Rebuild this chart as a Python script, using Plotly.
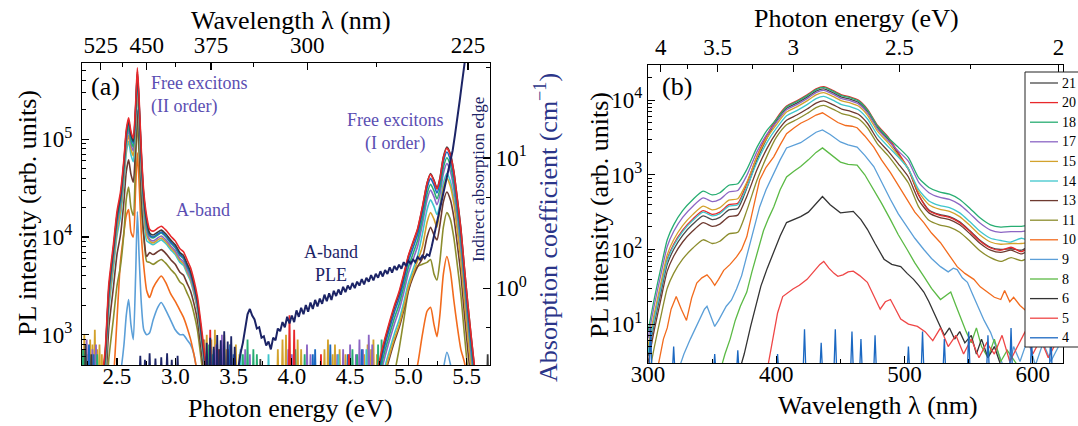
import plotly.graph_objects as go

W, H = 1078, 426
FONT = "Liberation Serif, Times New Roman, serif"
NAVY = "#1c2466"
LBL = "#5a4eb2"

# ---------------- Panel (a): PL spectra vs photon energy (log10 of intensity) ----------------
a_E_left = [2.36, 2.40, 2.43, 2.47, 2.50, 2.53, 2.56, 2.58, 2.60, 2.62, 2.64, 2.66, 2.675, 2.69, 2.71, 2.73,
            2.755, 2.78, 2.81, 2.85, 2.88, 2.92, 2.96, 3.00, 3.04, 3.07, 3.10, 3.13, 3.16, 3.19, 3.22, 3.25, 3.28]
a_E_right = [4.72, 4.76, 4.80, 4.84, 4.88, 4.92, 4.96, 5.00, 5.04, 5.08, 5.12, 5.16, 5.19, 5.22, 5.245, 5.27,
             5.30, 5.33, 5.36, 5.39, 5.42, 5.45, 5.48, 5.51, 5.54, 5.57, 5.60]

a_red_L = [2.42, 2.86, 3.52, 3.93, 4.26, 4.46, 4.80, 5.10, 5.22, 5.08, 5.01, 5.36, 5.73, 5.41, 4.86, 4.46, 4.21, 4.08, 4.06, 4.09, 4.11, 4.07, 4.01, 3.96, 3.88, 3.85, 3.77, 3.69, 3.56, 3.39, 3.12, 2.82, 2.52]
a_red_R = [2.52, 2.78, 2.97, 3.14, 3.30, 3.44, 3.62, 3.81, 3.95, 4.09, 4.31, 4.55, 4.64, 4.57, 4.49, 4.59, 4.81, 4.91, 4.84, 4.66, 4.38, 4.08, 3.69, 3.31, 2.97, 2.64, 2.32]
a_black_L = [2.37, 2.82, 3.47, 3.89, 4.22, 4.42, 4.77, 5.07, 5.19, 5.05, 4.98, 5.32, 5.69, 5.37, 4.82, 4.42, 4.17, 4.04, 4.02, 4.05, 4.07, 4.03, 3.97, 3.92, 3.84, 3.81, 3.73, 3.65, 3.52, 3.35, 3.07, 2.77, 2.47]
a_black_R = [2.50, 2.75, 2.95, 3.12, 3.28, 3.42, 3.60, 3.80, 3.94, 4.08, 4.30, 4.55, 4.65, 4.58, 4.50, 4.60, 4.82, 4.92, 4.85, 4.67, 4.39, 4.09, 3.69, 3.31, 2.96, 2.63, 2.31]
a_blue_L = [2.35, 2.80, 3.45, 3.87, 4.20, 4.40, 4.75, 5.05, 5.17, 5.03, 4.96, 5.30, 5.67, 5.35, 4.80, 4.40, 4.15, 4.02, 4.00, 4.03, 4.05, 4.01, 3.95, 3.90, 3.82, 3.79, 3.71, 3.63, 3.50, 3.33, 3.05, 2.75, 2.45]
a_blue_R = [2.45, 2.70, 2.90, 3.07, 3.23, 3.37, 3.55, 3.75, 3.89, 4.03, 4.25, 4.50, 4.60, 4.53, 4.45, 4.55, 4.77, 4.87, 4.79, 4.61, 4.33, 4.03, 3.63, 3.25, 2.90, 2.57, 2.25]
a_green_L = [2.31, 2.76, 3.41, 3.83, 4.16, 4.36, 4.71, 5.01, 5.13, 4.99, 4.92, 5.26, 5.63, 5.31, 4.76, 4.36, 4.11, 4.01, 3.99, 4.02, 4.04, 4.00, 3.94, 3.89, 3.81, 3.78, 3.70, 3.62, 3.49, 3.32, 3.04, 2.74, 2.44]
a_green_R = [2.39, 2.64, 2.84, 3.01, 3.17, 3.31, 3.49, 3.69, 3.83, 3.97, 4.19, 4.44, 4.54, 4.47, 4.39, 4.49, 4.71, 4.81, 4.73, 4.55, 4.27, 3.97, 3.57, 3.19, 2.84, 2.51, 2.19]
a_purple_L = [2.27, 2.72, 3.37, 3.79, 4.12, 4.32, 4.67, 4.97, 5.09, 4.95, 4.88, 5.22, 5.59, 5.27, 4.72, 4.32, 4.07, 3.98, 3.96, 3.99, 4.01, 3.97, 3.91, 3.86, 3.78, 3.75, 3.67, 3.59, 3.46, 3.29, 3.01, 2.71, 2.41]
a_purple_R = [2.33, 2.58, 2.78, 2.95, 3.11, 3.25, 3.43, 3.63, 3.77, 3.91, 4.13, 4.38, 4.48, 4.41, 4.33, 4.43, 4.65, 4.75, 4.67, 4.49, 4.21, 3.91, 3.51, 3.13, 2.78, 2.45, 2.13]
a_gold_L = [2.22, 2.67, 3.32, 3.74, 4.07, 4.27, 4.62, 4.92, 5.04, 4.90, 4.83, 5.17, 5.54, 5.22, 4.67, 4.27, 4.02, 3.96, 3.94, 3.97, 3.99, 3.95, 3.89, 3.84, 3.76, 3.73, 3.65, 3.57, 3.44, 3.27, 2.99, 2.69, 2.39]
a_gold_R = [2.18, 2.43, 2.63, 2.80, 2.96, 3.10, 3.28, 3.48, 3.62, 3.76, 3.90, 4.15, 4.25, 4.18, 4.10, 4.28, 4.50, 4.60, 4.52, 4.34, 4.06, 3.76, 3.36, 2.98, 2.63, 2.30, 1.98]
a_cyan_L = [2.16, 2.61, 3.26, 3.68, 4.01, 4.21, 4.56, 4.86, 4.98, 4.84, 4.77, 5.11, 5.48, 5.16, 4.61, 4.21, 3.96, 3.94, 3.92, 3.95, 3.97, 3.93, 3.87, 3.82, 3.74, 3.71, 3.63, 3.55, 3.42, 3.25, 2.97, 2.67, 2.37]
a_cyan_R = [2.23, 2.48, 2.68, 2.85, 3.01, 3.15, 3.33, 3.53, 3.67, 3.81, 4.03, 4.28, 4.38, 4.31, 4.23, 4.33, 4.55, 4.65, 4.57, 4.39, 4.11, 3.81, 3.41, 3.03, 2.68, 2.35, 2.03]
a_brown_L = [1.97, 2.42, 3.07, 3.49, 3.82, 4.02, 4.37, 4.67, 4.79, 4.64, 4.56, 4.92, 5.30, 4.98, 4.42, 4.02, 3.80, 3.84, 3.82, 3.85, 3.87, 3.83, 3.77, 3.72, 3.64, 3.61, 3.53, 3.45, 3.32, 3.15, 2.87, 2.57, 2.27]
a_brown_R = [2.15, 2.40, 2.60, 2.77, 2.93, 3.07, 3.25, 3.45, 3.59, 3.70, 3.78, 4.00, 4.10, 4.02, 3.97, 4.12, 4.36, 4.46, 4.38, 4.20, 3.92, 3.62, 3.22, 2.84, 2.49, 2.16, 1.84]
a_olive_L = [1.65, 2.10, 2.75, 3.17, 3.50, 3.70, 4.05, 4.39, 4.51, 4.30, 4.22, 4.79, 5.16, 4.84, 4.29, 4.00, 3.75, 3.74, 3.72, 3.75, 3.77, 3.73, 3.67, 3.62, 3.54, 3.51, 3.43, 3.35, 3.22, 3.05, 2.77, 2.47, 2.17]
a_olive_R = [1.50, 1.80, 2.10, 2.35, 2.60, 2.85, 3.15, 3.45, 3.62, 3.70, 3.72, 3.74, 3.77, 3.62, 3.56, 3.75, 4.10, 4.25, 4.18, 3.99, 3.71, 3.41, 3.01, 2.63, 2.28, 1.95, 1.63]
a_orange_L = [1.20, 1.60, 2.10, 2.55, 3.15, 3.75, 4.05, 4.22, 4.28, 4.05, 4.00, 4.50, 4.86, 4.55, 4.00, 3.70, 3.45, 3.38, 3.48, 3.56, 3.60, 3.53, 3.42, 3.34, 3.25, 3.18, 3.08, 2.96, 2.80, 2.60, 2.35, 2.10, 1.80]
a_orange_R = [1.00, 1.00, 1.10, 1.20, 1.40, 1.60, 1.90, 2.20, 2.50, 2.70, 3.00, 3.24, 3.28, 3.10, 2.98, 3.20, 3.62, 3.80, 3.65, 3.35, 3.08, 2.85, 2.72, 2.50, 2.20, 1.90, 1.60]
a_lblue_L = [1.50, 1.80, 2.00, 2.20, 2.40, 2.60, 2.90, 3.20, 3.36, 3.10, 2.95, 3.60, 4.26, 3.80, 3.30, 3.05, 3.00, 3.02, 3.15, 3.28, 3.33, 3.25, 3.15, 3.05, 3.00, 3.00, 2.95, 2.90, 2.80, 2.60, 2.40, 2.20, 2.00]
a_lblue_R = [2.30, 2.30, 2.30, 2.30, 2.30, 2.30, 2.30, 2.30, 2.30, 2.30, 2.30, 2.30, 2.30, 2.30, 2.30, 2.40, 2.65, 2.82, 2.70, 2.45, 2.30, 2.30, 2.30, 2.30, 2.30, 2.30, 2.30]

# noise spikes near the baseline of panel (a): centres (eV) and log10 heights
a_noise_gold_E = [2.20, 2.22, 2.25, 2.27, 2.29, 2.31, 2.33, 2.35, 2.37, 3.25, 3.27, 3.29, 3.31, 3.34, 3.36, 3.39, 3.42, 3.44,
                  3.47, 3.52, 3.55, 3.88, 3.92, 3.95, 3.99, 4.05, 4.08, 4.28, 4.31, 4.35, 4.37, 4.41, 4.46, 4.62, 4.65,
                  4.68, 4.70, 4.73]
a_noise_gold_h = [2.85, 3.00, 2.80, 2.95, 2.90, 3.05, 2.85, 2.90, 2.80, 2.95, 3.00, 2.85, 2.95, 3.05, 2.90, 2.85, 3.00, 2.85,
                  2.90, 2.90, 2.80, 2.85, 2.95, 3.00, 2.80, 2.95, 2.85, 2.85, 2.95, 2.80, 2.90, 2.85, 2.80, 2.80, 2.90,
                  2.85, 2.95, 2.80]
a_noise_purple_E = [2.21, 2.24, 2.26, 2.29, 2.32, 3.28, 3.35, 3.40, 3.46, 3.60, 3.64, 3.97, 4.00, 4.13, 4.16, 4.39, 4.44,
                    4.50, 4.55, 4.58, 4.61, 4.66, 4.69]
a_noise_purple_h = [2.80, 2.95, 2.85, 2.85, 2.90, 2.80, 2.90, 3.00, 2.85, 2.85, 2.80, 2.85, 2.80, 2.90, 2.80, 2.80, 2.85,
                    2.90, 2.80, 2.95, 2.85, 3.00, 2.90]
a_noise_green_E = [2.21, 2.23, 2.33, 3.29, 3.32, 3.58, 3.62, 3.67, 3.70, 4.03, 4.11, 4.52, 4.56, 4.74, 4.77]
a_noise_green_h = [2.85, 2.80, 2.80, 2.90, 2.80, 2.80, 2.95, 2.85, 2.80, 2.85, 2.80, 2.85, 2.80, 2.90, 2.95]
a_noise_blue_E = [2.26, 2.30, 3.24, 3.30, 3.33, 3.47, 3.50, 4.18, 4.20, 4.33, 4.48, 4.60]
a_noise_blue_h = [2.90, 2.80, 2.95, 2.80, 2.85, 2.90, 2.80, 2.80, 2.85, 2.90, 2.80, 2.85]
a_noise_red_E = [3.30, 3.37, 3.98, 4.02, 4.25, 4.49]
a_noise_red_h = [3.05, 2.85, 3.20, 3.05, 2.80, 2.80]
a_noise_black_E = [2.23, 2.28, 3.38, 3.73, 5.68]
a_noise_black_h = [2.90, 2.80, 2.85, 2.75, 2.80]
a_noise_cyan_E = [3.56, 3.80, 4.40, 4.64]
a_noise_cyan_h = [2.85, 2.80, 2.80, 2.85]

# A-band PLE / absorption (right axis, log10 of absorption coefficient)
ple_E = [3.54, 3.56, 3.58, 3.60, 3.62, 3.64, 3.66, 3.68, 3.70, 3.72, 3.74, 3.76, 3.78, 3.80, 3.82, 3.84, 3.86, 3.88,
         3.90, 3.92, 3.94, 3.96, 3.98, 4.00, 4.02, 4.04, 4.06, 4.08, 4.10, 4.12, 4.14, 4.16, 4.18, 4.20, 4.22, 4.24,
         4.26, 4.28, 4.30, 4.32, 4.34, 4.36, 4.38, 4.40, 4.42, 4.44, 4.46, 4.48, 4.50, 4.52, 4.54, 4.56, 4.58, 4.60,
         4.62, 4.64, 4.66, 4.68, 4.70, 4.72, 4.74, 4.76, 4.78, 4.80, 4.82, 4.84, 4.86, 4.88, 4.90, 4.92, 4.94, 4.96,
         4.98, 5.00, 5.02, 5.04, 5.06, 5.08, 5.10, 5.12, 5.14, 5.16, 5.18, 5.20, 5.22, 5.24, 5.26, 5.28, 5.30, 5.32,
         5.34, 5.36, 5.38, 5.40, 5.42, 5.44, 5.46, 5.48, 5.50]
ple_log = [-0.62, -0.50, -0.42, -0.30, -0.20, -0.16, -0.21, -0.24, -0.31, -0.30, -0.38, -0.37, -0.44, -0.41, -0.47, -0.38, -0.40, -0.31,
           -0.33, -0.26, -0.30, -0.22, -0.27, -0.21, -0.26, -0.17, -0.22, -0.15, -0.20, -0.13, -0.18, -0.11, -0.16, -0.09, -0.14, -0.08,
           -0.12, -0.05, -0.10, -0.04, -0.09, -0.02, -0.06, -0.01, -0.05, 0.01, -0.03, 0.02, -0.01, 0.04, 0.00, 0.05, 0.02, 0.07,
           0.03, 0.08, 0.05, 0.10, 0.06, 0.11, 0.08, 0.13, 0.09, 0.14, 0.11, 0.16, 0.12, 0.17, 0.14, 0.18, 0.15, 0.20,
           0.17, 0.21, 0.19, 0.22, 0.20, 0.24, 0.22, 0.25, 0.23, 0.26, 0.25, 0.32, 0.40, 0.48, 0.56, 0.64, 0.72, 0.80,
           0.88, 0.96, 1.06, 1.18, 1.30, 1.44, 1.58, 1.72, 1.85]
# PLE noise near its baseline (right axis log10)
ple_noise_E = [2.70, 2.74, 2.78, 2.83, 2.88, 2.93, 2.97, 3.02, 3.27, 3.30, 3.33, 3.36, 3.39, 3.42, 3.45, 3.48, 3.51]
ple_noise_h = [-0.52, -0.55, -0.50, -0.54, -0.53, -0.50, -0.55, -0.52, -0.42, -0.38, -0.45, -0.36, -0.40, -0.33, -0.41,
               -0.37, -0.45]

a_bottom_ticks = [2.5, 3.0, 3.5, 4.0, 4.5, 5.0, 5.5]
a_top_wavelengths = [525, 450, 375, 300, 225]
a_top_minor_wavelengths = [487.5, 412.5, 337.5, 262.5]

# ---------------- Panel (b): PL spectra vs wavelength (log10 of intensity) ----------------
series_labels = ["21", "20", "18", "17", "15", "14", "13", "11", "10", "9", "8", "6", "5", "4"]
series_colors = ["#4a4a4a", "#e8282b", "#27ad72", "#8c66c4", "#d3a22c", "#3fc6cd", "#6e3a30", "#8c8d2d",
                 "#f26b1d", "#5b9fd8", "#5bba45", "#333333", "#ef4646", "#1b68c2"]

lam_b = [300, 305, 310, 315, 320, 327, 335, 343, 350, 356, 363, 370, 377, 385, 393, 400, 408, 416, 424, 431, 437,
         444, 451, 458, 464, 471, 479, 487, 495, 503, 511, 519, 527, 535, 543, 551, 559, 567, 575, 583, 591, 599,
         607, 615, 622]
b_log_21 = [0.57, 1.02, 1.42, 1.80, 2.00, 2.19, 2.34, 2.45, 2.40, 2.43, 2.53, 2.55, 2.82, 3.20, 3.50, 3.72, 3.89, 3.96, 4.04, 4.12, 4.15, 4.10, 4.04, 4.01, 3.97, 3.85, 3.63, 3.48, 3.28, 3.07, 2.73, 2.53, 2.47, 2.44, 2.37, 2.25, 2.12, 2.03, 2.00, 2.01, 1.99, 2.05, 2.00, 1.98, 2.02]
b_log_20 = [0.64, 1.09, 1.49, 1.87, 2.07, 2.26, 2.41, 2.52, 2.47, 2.50, 2.60, 2.62, 2.88, 3.25, 3.54, 3.75, 3.92, 3.99, 4.07, 4.15, 4.18, 4.13, 4.07, 4.04, 4.00, 3.88, 3.66, 3.51, 3.30, 3.08, 2.73, 2.52, 2.46, 2.43, 2.36, 2.24, 2.11, 2.02, 1.99, 2.03, 1.97, 2.04, 1.98, 2.02, 1.96]
b_log_18 = [0.90, 1.35, 1.75, 2.13, 2.33, 2.52, 2.67, 2.78, 2.73, 2.76, 2.86, 2.88, 3.07, 3.37, 3.60, 3.74, 3.91, 3.98, 4.06, 4.14, 4.17, 4.12, 4.06, 4.03, 3.99, 3.87, 3.65, 3.50, 3.37, 3.23, 2.96, 2.83, 2.77, 2.74, 2.67, 2.55, 2.42, 2.33, 2.30, 2.31, 2.31, 2.33, 2.32, 2.30, 2.31]
b_log_17 = [0.81, 1.26, 1.66, 2.04, 2.24, 2.43, 2.58, 2.69, 2.64, 2.67, 2.77, 2.79, 2.99, 3.31, 3.55, 3.70, 3.87, 3.94, 4.02, 4.10, 4.13, 4.08, 4.02, 3.99, 3.95, 3.83, 3.61, 3.46, 3.32, 3.18, 2.90, 2.76, 2.70, 2.67, 2.60, 2.48, 2.35, 2.26, 2.23, 2.24, 2.24, 2.26, 2.25, 2.23, 2.24]
b_log_15 = [0.70, 1.15, 1.55, 1.93, 2.13, 2.32, 2.47, 2.58, 2.53, 2.56, 2.66, 2.68, 2.90, 3.24, 3.50, 3.67, 3.84, 3.91, 3.99, 4.07, 4.10, 4.05, 3.99, 3.96, 3.92, 3.80, 3.58, 3.43, 3.26, 3.08, 2.77, 2.60, 2.54, 2.51, 2.44, 2.32, 2.19, 2.10, 2.07, 2.08, 2.08, 2.10, 2.09, 2.07, 2.08]
b_log_14 = [0.62, 1.07, 1.47, 1.85, 2.05, 2.24, 2.39, 2.50, 2.45, 2.48, 2.58, 2.60, 2.83, 3.17, 3.44, 3.62, 3.79, 3.86, 3.94, 4.02, 4.05, 4.00, 3.94, 3.91, 3.87, 3.75, 3.53, 3.38, 3.24, 3.08, 2.80, 2.65, 2.59, 2.56, 2.49, 2.37, 2.24, 2.15, 2.12, 2.10, 2.15, 2.11, 2.16, 2.12, 2.14]
b_log_13 = [0.48, 0.93, 1.33, 1.71, 1.91, 2.10, 2.25, 2.36, 2.31, 2.34, 2.44, 2.46, 2.71, 3.07, 3.36, 3.56, 3.73, 3.80, 3.88, 3.96, 3.99, 3.94, 3.88, 3.85, 3.81, 3.69, 3.47, 3.32, 3.15, 2.97, 2.66, 2.49, 2.43, 2.40, 2.33, 2.21, 2.08, 1.99, 1.96, 1.99, 1.94, 2.00, 1.95, 1.98, 1.94]
b_log_11 = [0.25, 0.70, 1.10, 1.48, 1.68, 1.87, 2.02, 2.13, 2.08, 2.11, 2.21, 2.23, 2.52, 2.93, 3.26, 3.50, 3.67, 3.74, 3.82, 3.90, 3.93, 3.88, 3.82, 3.79, 3.75, 3.63, 3.41, 3.26, 3.08, 2.89, 2.57, 2.39, 2.33, 2.30, 2.23, 2.11, 1.98, 1.89, 1.84, 1.89, 1.85, 1.90, 1.86, 1.88, 1.85]

lam_10 = [300, 308, 312, 315, 318, 322, 326, 330, 334, 338, 342, 346, 349, 352, 355, 359, 364, 369, 373, 377, 382, 387,
          392, 398, 403, 408, 414, 419, 425, 431, 436, 442, 448, 454, 459, 463, 469, 476, 482, 489, 495, 502, 508, 515,
          521, 528, 534, 541, 547, 554, 559, 565, 570, 575, 578, 582, 585, 590, 596, 602, 608, 614, 620]
b_log_10 = [0.2, 0.45, 0.8, 0.95, 1.2, 1.37, 1.2, 1.05, 1.35, 1.55, 1.62, 1.66, 1.6, 1.52, 1.6, 1.72, 1.8, 1.9, 2.0, 2.17,
            2.55, 2.93, 3.1, 3.24, 3.4, 3.55, 3.63, 3.69, 3.74, 3.8, 3.83, 3.77, 3.7, 3.66, 3.65, 3.63, 3.52, 3.37, 3.2,
            3.03, 2.86, 2.67, 2.5, 2.36, 2.22, 2.09, 1.95, 1.77, 1.68, 1.6, 1.5, 1.43, 1.36, 1.33, 1.45, 1.3, 1.36, 1.25,
            1.16, 1.2, 1.1, 1.15, 1.05]
lam_9 = [322, 328, 333, 337, 341, 344, 346, 349, 352, 355, 358, 361, 365, 369, 373, 377, 382, 387, 392, 398, 403, 408,
         414, 419, 425, 431, 436, 442, 450, 456, 463, 469, 476, 482, 489, 495, 502, 508, 515, 521, 528, 534, 538, 541,
         545, 549, 553, 557, 562, 567, 571, 575, 580, 585, 590, 596, 602, 608, 614, 620]
b_log_9 = [0.3, 0.6, 0.8, 0.95, 1.1, 1.2, 1.24, 1.1, 0.97, 1.05, 1.15, 1.24, 1.32, 1.47, 1.65, 1.91, 2.25, 2.57, 2.8,
           3.03, 3.2, 3.36, 3.4, 3.43, 3.5, 3.57, 3.6, 3.54, 3.44, 3.4, 3.37, 3.26, 3.11, 2.9, 2.67, 2.48, 2.31, 2.15,
           2.0, 1.88, 1.77, 1.7, 1.75, 1.73, 1.62, 1.56, 1.4, 1.24, 1.05, 0.89, 0.7, 0.5, 0.3, 0.7, 0.5, 0.8, 0.45,
           0.75, 0.5, 0.7]
lam_8 = [355, 360, 364, 368, 372, 375, 377, 381, 385, 390, 394, 398, 403, 408, 414, 419, 425, 431, 436, 442, 450, 456,
         463, 469, 476, 482, 489, 495, 502, 508, 515, 521, 528, 532, 536, 540, 544, 548, 552, 556, 560, 565, 570, 575,
         580, 590]
b_log_8 = [0.3, 0.6, 0.8, 1.05, 1.24, 1.35, 1.43, 1.7, 1.96, 2.25, 2.42, 2.57, 2.8, 2.97, 3.05, 3.11, 3.2, 3.3, 3.36,
           3.28, 3.17, 3.14, 3.13, 3.0, 2.8, 2.62, 2.4, 2.2, 2.0, 1.82, 1.64, 1.48, 1.33, 1.38, 1.43, 1.25, 1.07, 0.9,
           0.75, 0.95, 0.7, 0.55, 0.8, 0.5, 0.65, 0.4]
lam_6 = [370, 375, 380, 384, 388, 393, 398, 403, 408, 414, 419, 425, 431, 436, 442, 450, 455, 460, 466, 471, 477, 484,
         490, 497, 502, 507, 511, 515, 519, 523, 527, 531, 535, 539, 543, 547, 552, 556, 560, 565, 570, 575]
b_log_6 = [0.3, 0.6, 0.97, 1.25, 1.51, 1.75, 1.96, 2.18, 2.36, 2.4, 2.44, 2.5, 2.62, 2.71, 2.6, 2.49, 2.5, 2.51, 2.4,
           2.27, 2.08, 1.87, 1.8, 1.77, 1.68, 1.6, 1.52, 1.43, 1.3, 1.16, 1.0, 0.85, 0.95, 0.8, 0.9, 0.75, 0.85, 0.6,
           0.8, 0.55, 0.7, 0.45]
lam_5 = [392, 396, 398, 401, 405, 409, 413, 418, 424, 430, 434, 437, 441, 445, 448, 452, 456, 460, 465, 471, 476, 481,
         485, 489, 493, 497, 503, 510, 516, 522, 528, 534, 540, 546, 552, 558, 564, 570, 576, 582, 588, 594, 600, 606,
         612, 618]
b_log_5 = [0.3, 0.7, 0.89, 1.15, 1.37, 1.42, 1.47, 1.52, 1.6, 1.72, 1.8, 1.84, 1.75, 1.68, 1.64, 1.66, 1.7, 1.71, 1.65,
           1.56, 1.38, 1.2, 1.3, 1.33, 1.2, 1.07, 1.0, 0.97, 0.9, 0.78, 0.95, 0.7, 0.85, 0.6, 0.8, 0.55, 0.75, 0.6,
           0.85, 0.5, 0.7, 0.9, 0.6, 0.8, 0.55, 0.75]
spk4_lam = [302, 320, 352, 370, 401, 422, 435, 446, 459, 466, 477, 503, 514, 531, 550, 565, 583, 599, 614]
spk4_log = [0.95, 0.7, 0.6, 0.65, 0.6, 0.93, 0.75, 0.93, 0.9, 0.8, 0.85, 0.7, 0.9, 0.8, 0.9, 0.85, 0.95, 0.8, 0.9]

b_bottom_ticks = [300, 400, 500, 600]
b_bottom_minor = [350, 450, 550]
b_top_energies = [4, 3.5, 3, 2.5, 2]
b_top_energy_labels = ["4", "3.5", "3", "2.5", "2"]
b_top_minor_energies = [3.75, 3.25, 2.75, 2.25]

HC = 1239.84  # eV*nm


def lin(v):
    return [10 ** t for t in v]


def spikes(centres, heights, half, base):
    xs, ys = [], []
    for c, h in zip(centres, heights):
        xs += [c - half, c, c + half, None]
        ys += [10 ** base, 10 ** h, 10 ** base, None]
    return xs, ys


fig = go.Figure()

# ---- panel (a) traces ----
a_noise = [
    ("#d3a22c", a_noise_gold_E, a_noise_gold_h),
    ("#8c66c4", a_noise_purple_E, a_noise_purple_h),
    ("#27ad72", a_noise_green_E, a_noise_green_h),
    ("#1b68c2", a_noise_blue_E, a_noise_blue_h),
    ("#e8282b", a_noise_red_E, a_noise_red_h),
    ("#3a3a3a", a_noise_black_E, a_noise_black_h),
    ("#3fc6cd", a_noise_cyan_E, a_noise_cyan_h),
]
for col, ce, hh in a_noise:
    assert len(ce) == len(hh)
    xs, ys = spikes(ce, hh, 0.009, 2.3)
    fig.add_trace(go.Scatter(x=xs, y=ys, mode="lines", line=dict(color=col, width=1.8),
                             xaxis="x", yaxis="y", showlegend=False, hoverinfo="skip"))

a_series = [
    ("#5b9fd8", a_lblue_L, a_lblue_R),
    ("#f26b1d", a_orange_L, a_orange_R),
    ("#8c8d2d", a_olive_L, a_olive_R),
    ("#6e3a30", a_brown_L, a_brown_R),
    ("#3fc6cd", a_cyan_L, a_cyan_R),
    ("#d3a22c", a_gold_L, a_gold_R),
    ("#8c66c4", a_purple_L, a_purple_R),
    ("#27ad72", a_green_L, a_green_R),
    ("#1b68c2", a_blue_L, a_blue_R),
    ("#3a3a3a", a_black_L, a_black_R),
    ("#e8282b", a_red_L, a_red_R),
]
for col, yl, yr in a_series:
    assert len(yl) == len(a_E_left) and len(yr) == len(a_E_right)
    fig.add_trace(go.Scatter(x=a_E_left + [None] + a_E_right, y=lin(yl) + [None] + lin(yr),
                             mode="lines", line=dict(color=col, width=1.6, shape="spline", smoothing=0.6),
                             xaxis="x", yaxis="y", showlegend=False, hoverinfo="skip", connectgaps=False))

assert len(ple_E) == len(ple_log) and len(ple_noise_E) == len(ple_noise_h)
xs, ys = spikes(ple_noise_E, ple_noise_h, 0.008, -0.7)
fig.add_trace(go.Scatter(x=xs, y=ys, mode="lines", line=dict(color=NAVY, width=1.8),
                         xaxis="x", yaxis="y2", showlegend=False, hoverinfo="skip"))
fig.add_trace(go.Scatter(x=ple_E, y=lin(ple_log), mode="lines", line=dict(color=NAVY, width=2),
                         xaxis="x", yaxis="y2", showlegend=False, hoverinfo="skip"))
# anchor trace for the top wavelength axis of panel (a)
fig.add_trace(go.Scatter(x=[None], y=[None], xaxis="x3", yaxis="y", showlegend=False, hoverinfo="skip"))

# ---- panel (b) traces ----
b_x = {
    "21": lam_b, "20": lam_b, "18": lam_b, "17": lam_b, "15": lam_b, "14": lam_b, "13": lam_b, "11": lam_b,
    "10": lam_10, "9": lam_9, "8": lam_8, "6": lam_6, "5": lam_5,
}
b_y = {
    "21": b_log_21, "20": b_log_20, "18": b_log_18, "17": b_log_17, "15": b_log_15, "14": b_log_14,
    "13": b_log_13, "11": b_log_11, "10": b_log_10, "9": b_log_9, "8": b_log_8, "6": b_log_6, "5": b_log_5,
}
for lab, col in zip(series_labels, series_colors):
    if lab == "4":
        xs, ys = spikes(spk4_lam, spk4_log, 1.2, 0.3)
        fig.add_trace(go.Scatter(x=xs, y=ys, mode="lines", name=lab, line=dict(color=col, width=1.3),
                                 xaxis="x2", yaxis="y3", hoverinfo="skip", showlegend=False))
        continue
    xv, yv = b_x[lab], b_y[lab]
    assert len(xv) == len(yv), lab
    smooth = lab in ("21", "20", "18", "17", "15", "14", "13", "11")
    fig.add_trace(go.Scatter(x=xv, y=lin(yv), mode="lines", name=lab, showlegend=False,
                             line=dict(color=col, width=1.3, shape="spline" if smooth else "linear",
                                       smoothing=0.6),
                             xaxis="x2", yaxis="y3", hoverinfo="skip"))
fig.add_trace(go.Scatter(x=[None], y=[None], xaxis="x4", yaxis="y3", showlegend=False, hoverinfo="skip"))


def px(x):
    return x / W


def py(y):
    return 1 - y / H


tickfont = dict(family=FONT, size=23, color="black")
axis_common = dict(showline=True, linecolor="black", linewidth=1.2, showgrid=False, zeroline=False,
                   ticks="inside", ticklen=7, tickwidth=1.2, tickcolor="black", tickfont=tickfont)
minor_common = dict(ticks="inside", ticklen=4, tickcolor="black", tickwidth=1)

dec_minor = lambda lo, hi: [m * 10 ** d for d in range(lo, hi) for m in range(2, 10)]

xa = [px(82), px(490)]
ya = [py(365), py(63)]
xb = [px(648), px(1063)]
yb = [py(363), py(65)]

fig.update_layout(
    width=W, height=H,
    margin=dict(l=0, r=0, t=0, b=0, autoexpand=False),
    paper_bgcolor="white", plot_bgcolor="white",
    font=dict(family=FONT, color="black"),
    showlegend=False,
    xaxis=dict(domain=xa, anchor="y", range=[2.2, 5.7], tickmode="array", tickvals=a_bottom_ticks,
               ticktext=["%.1f" % v for v in a_bottom_ticks], ticklabelstandoff=-10,
               minor=dict(tickvals=[2.25, 2.75, 3.25, 3.75, 4.25, 4.75, 5.25], **minor_common),
               **axis_common),
    xaxis3=dict(overlaying="x", anchor="y", side="top", range=[2.2, 5.7], tickmode="array",
                tickvals=[HC / w for w in a_top_wavelengths], ticktext=[str(w) for w in a_top_wavelengths],
                minor=dict(tickvals=[HC / w for w in a_top_minor_wavelengths], **minor_common),
                **axis_common),
    yaxis=dict(domain=ya, anchor="x", type="log", range=[2.69, 5.78], tickmode="array",
               tickvals=[1e3, 1e4, 1e5], ticktext=["10<sup>3</sup>", "10<sup>4</sup>", "10<sup>5</sup>"],
               minor=dict(tickvals=dec_minor(2, 6), **minor_common), ticklabelstandoff=4,
               **axis_common),
    yaxis2=dict(overlaying="y", anchor="x", side="right", type="log", range=[-0.59, 1.73], tickmode="array",
                tickvals=[1, 10], ticktext=["10<sup>0</sup>", "10<sup>1</sup>"],
                minor=dict(tickvals=[0.5, 5, 50], **minor_common),
                **axis_common),
    xaxis2=dict(domain=xb, anchor="y3", range=[300, 623.5], tickmode="array", tickvals=b_bottom_ticks,
                ticktext=[str(v) for v in b_bottom_ticks], ticklabelstandoff=-10,
                minor=dict(tickvals=b_bottom_minor, **minor_common),
                **axis_common),
    xaxis4=dict(overlaying="x2", anchor="y3", side="top", range=[300, 623.5], tickmode="array",
                tickvals=[HC / e for e in b_top_energies], ticktext=b_top_energy_labels,
                minor=dict(tickvals=[HC / e for e in b_top_minor_energies], **minor_common),
                **axis_common),
    yaxis3=dict(domain=yb, anchor="x2", type="log", range=[0.48, 4.47], tickmode="array", mirror=True,
                tickvals=[10, 100, 1000, 10000],
                ticktext=["10<sup>1</sup>", "10<sup>2</sup>", "10<sup>3</sup>", "10<sup>4</sup>"],
                minor=dict(tickvals=dec_minor(0, 5), **minor_common),
                **axis_common),
)

ann = []
shapes = []


def add_text(text, x, y, size=26, color="black", angle=0, xanchor="center", align="center"):
    ann.append(dict(text=text, x=px(x), y=py(y), xref="paper", yref="paper", showarrow=False,
                    xanchor=xanchor, yanchor="middle", textangle=angle, align=align,
                    font=dict(family=FONT, size=size, color=color)))


# axis titles
add_text("Wavelength λ (nm)", 291, 20)
add_text("Photon energy (eV)", 290, 408)
add_text("PL intensity (arb. units)", 27, 213, angle=-90)
add_text("Absorption coefficient (cm<sup>−1</sup>)", 547, 228, color="#2b3589", angle=-90)
add_text("Photon energy (eV)", 856, 19)
add_text("Wavelength λ (nm)", 878, 405)
add_text("PL intensity (arb. units)", 600, 215, angle=-90)
# panel labels and annotations
add_text("(a)", 106, 86, size=26)
add_text("(b)", 677, 86, size=26)
add_text("Free excitons<br>(II order)", 149, 95, size=18, color=LBL, xanchor="left", align="left")
add_text("A-band", 203, 210, size=18, color=LBL)
add_text("Free excitons<br>(I order)", 395, 132, size=18, color=LBL)
add_text("A-band<br>PLE", 331, 263, size=18, color=NAVY)
add_text("Indirect absorption edge", 478, 180, size=17, color=NAVY, angle=-90)

# legend of panel (b), drawn as a framed key at the right edge
LEG_X0, LEG_Y0, LEG_Y1, LEG_STEP, LEG_FIRST = 1025, 72, 347, 19.6, 83
shapes.append(dict(type="rect", xref="paper", yref="paper", x0=px(LEG_X0), x1=px(1090), y0=py(LEG_Y1), y1=py(LEG_Y0),
                   fillcolor="white", line=dict(color="#222", width=1), layer="above"))
for i, (lab, col) in enumerate(zip(series_labels, series_colors)):
    yy = LEG_FIRST + i * LEG_STEP
    shapes.append(dict(type="line", xref="paper", yref="paper", x0=px(1030), x1=px(1058), y0=py(yy), y1=py(yy),
                       line=dict(color=col, width=1.3), layer="above"))
    ann.append(dict(text=lab, x=px(1060), y=py(yy), xref="paper", yref="paper", showarrow=False,
                    xanchor="left", yanchor="middle", font=dict(family=FONT, size=14, color="black")))

fig.update_layout(annotations=ann, shapes=shapes)
fig.write_html("out.html", config={"displayModeBar": False, "staticPlot": True},
               post_script="document.body.style.margin='0';document.body.style.overflow='hidden';")
